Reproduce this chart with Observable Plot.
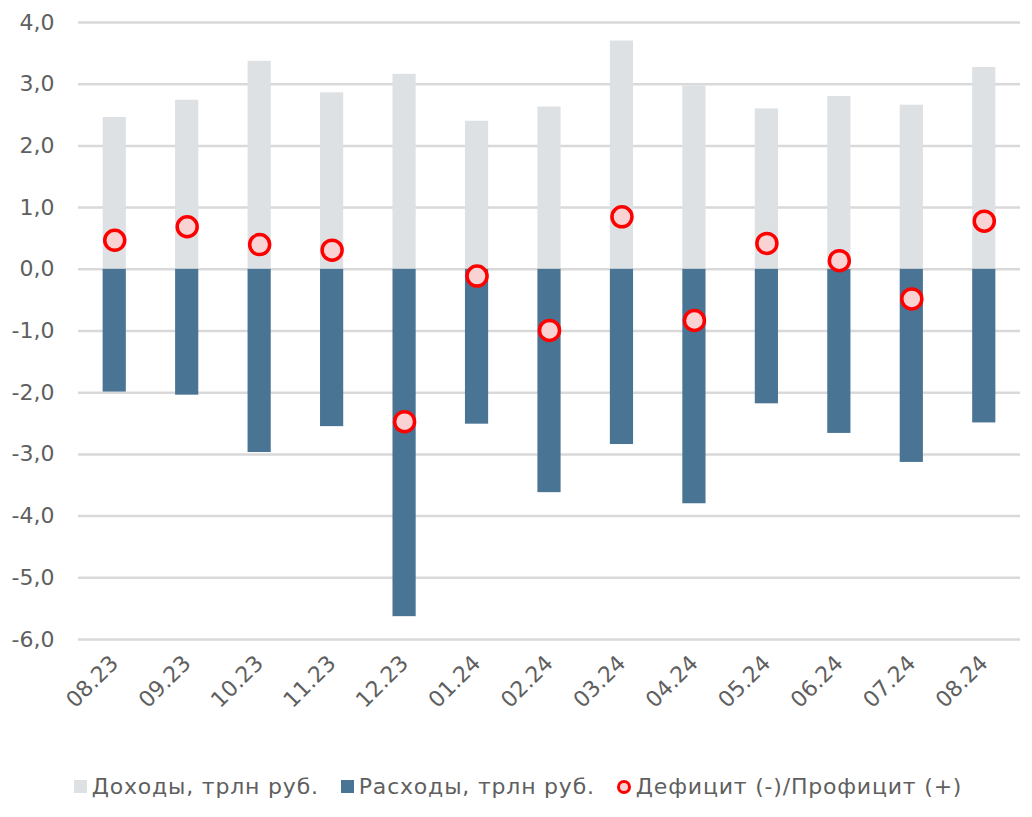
<!DOCTYPE html>
<html>
<head>
<meta charset="utf-8">
<script src="https://cdn.jsdelivr.net/npm/d3@7"></script>
<script src="https://cdn.jsdelivr.net/npm/@observablehq/plot@0.6"></script>
<style>
  body { margin: 0; background: #fff; font-family: "DejaVu Sans", sans-serif; }
  #chart svg { display: block; }
  .legend { display: flex; justify-content: center; align-items: center; gap: 22px; font-size: 22px; letter-spacing: 0.8px; color: #5f5f5f; margin-top: 34px; margin-left: 4px; }
  .legend .item { display: flex; align-items: center; gap: 5px; }
  .sw { width: 13px; height: 13px; display: inline-block; }
  .dot { width: 8px; height: 8px; border-radius: 50%; border: 3px solid #ff0000; background: #f9d3d3; display: inline-block; }
</style>
</head>
<body>
<div id="chart"></div>
<script>
const months = ["08.23","09.23","10.23","11.23","12.23","01.24","02.24","03.24","04.24","05.24","06.24","07.24","08.24"];
const income = [2.46, 2.74, 3.37, 2.86, 3.16, 2.40, 2.63, 3.70, 2.97, 2.60, 2.80, 2.66, 3.27];
const expenses = [-1.99, -2.04, -2.97, -2.55, -5.63, -2.51, -3.62, -2.84, -3.80, -2.18, -2.66, -3.13, -2.49];
const balance = [0.47, 0.69, 0.40, 0.31, -2.47, -0.11, -0.99, 0.85, -0.83, 0.42, 0.14, -0.48, 0.78];
const yTicks = [-6, -5, -4, -3, -2, -1, 0, 1, 2, 3, 4];
const legendLabels = ["Доходы, трлн руб.", "Расходы, трлн руб.", "Дефицит (-)/Профицит (+)"];

const data = months.map((m, i) => ({m, inc: income[i], exp: expenses[i], bal: balance[i]}));
const fmt = d => d.toFixed(1).replace(".", ",");

const chart = Plot.plot({
  width: 1032,
  height: 740,
  marginLeft: 78,
  marginRight: 12,
  marginTop: 22,
  marginBottom: 101,
  style: {fontFamily: "DejaVu Sans, sans-serif", fontSize: "22px", color: "#5f5f5f", background: "#fff"},
  x: {domain: months, paddingInner: 0.68, paddingOuter: 0.34, round: false, label: null},
  y: {domain: [-6, 4], label: null},
  marks: [
    Plot.ruleY(yTicks, {stroke: "#d9d9d9", strokeWidth: 2.5}),
    Plot.barY(data, {x: "m", y1: 0, y2: "inc", fill: "#dde1e4"}),
    Plot.barY(data, {x: "m", y1: 0, y2: "exp", fill: "#4a7494"}),
    Plot.dot(data, {x: "m", y: "bal", r: 10, fill: "#f9d3d3", stroke: "#ff0000", strokeWidth: 3.5}),
    Plot.axisY({ticks: yTicks, tickFormat: fmt, tickSize: 0, tickPadding: 24, fill: "#5f5f5f", fontSize: 22}),
    Plot.axisX({tickSize: 0, tickRotate: -45, tickPadding: 20, fill: "#5f5f5f", fontSize: 22})
  ]
});
document.getElementById("chart").appendChild(chart);

const legend = document.createElement("div");
legend.className = "legend";
legend.innerHTML = `
  <span class="item"><span class="sw" style="background:#dde1e4"></span>${legendLabels[0]}</span>
  <span class="item"><span class="sw" style="background:#4a7494"></span>${legendLabels[1]}</span>
  <span class="item"><span class="dot"></span>${legendLabels[2]}</span>`;
document.body.appendChild(legend);
</script>
</body>
</html>
